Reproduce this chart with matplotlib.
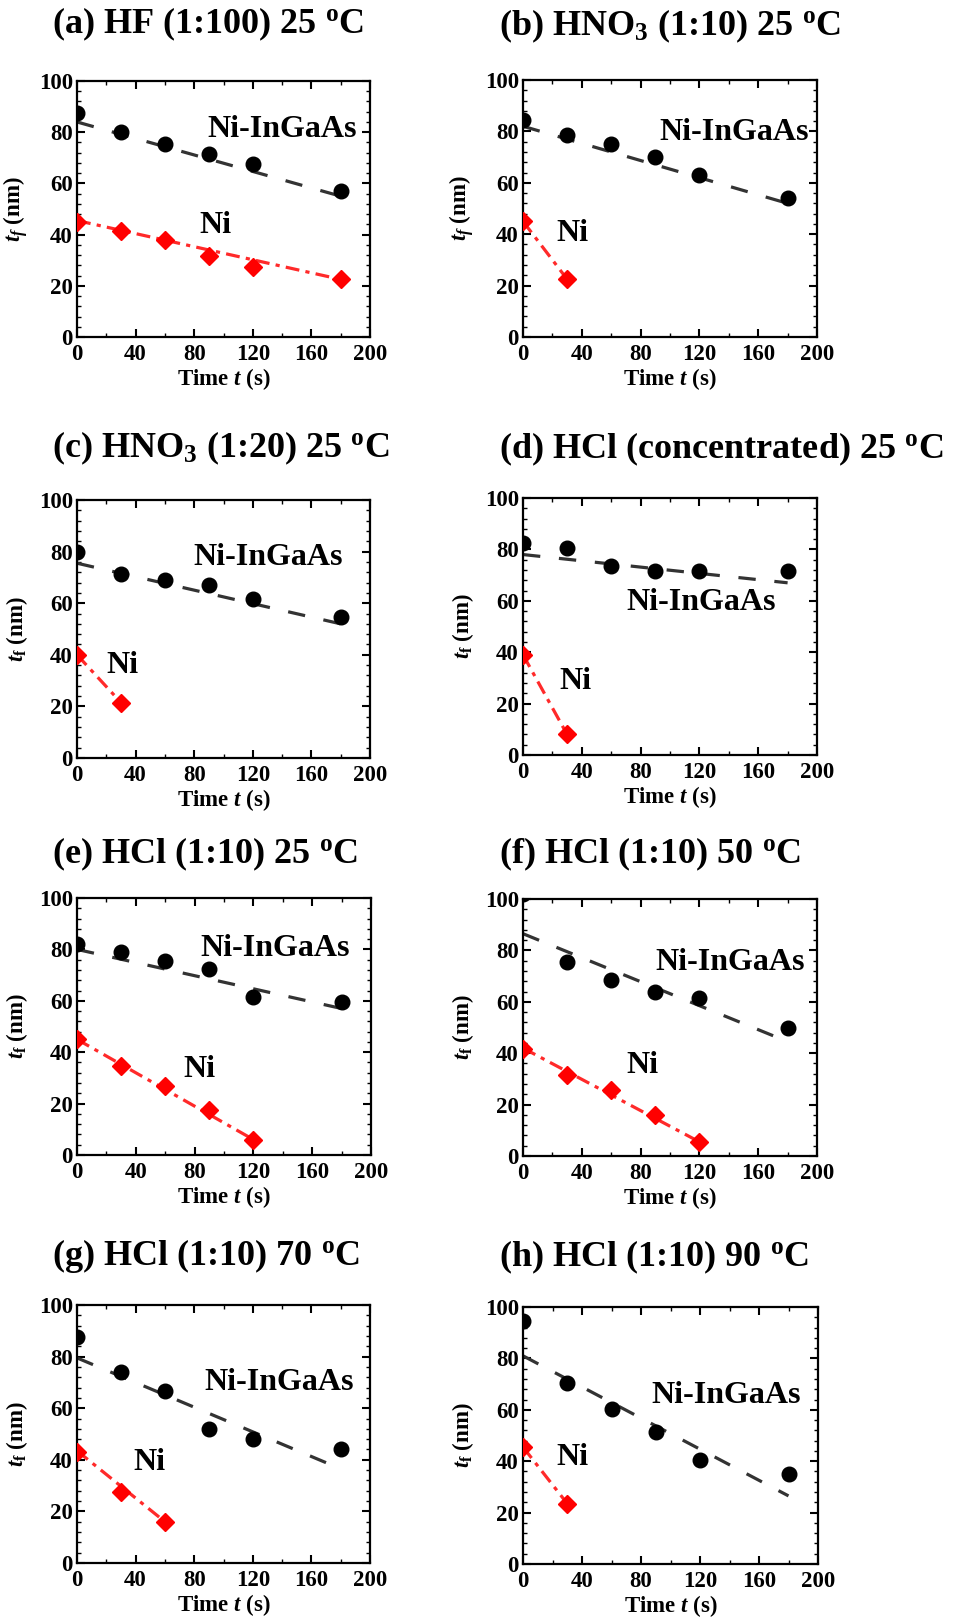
import numpy as np
import matplotlib
matplotlib.use("Agg")
import matplotlib.pyplot as plt

plt.rcParams['font.family'] = ['Liberation Serif', 'DejaVu Serif']
plt.rcParams['font.weight'] = 'bold'
plt.rcParams['axes.labelweight'] = 'bold'
plt.rcParams['mathtext.fontset'] = 'custom'
plt.rcParams['mathtext.rm'] = 'Liberation Serif:bold'
plt.rcParams['mathtext.it'] = 'Liberation Serif:italic:bold'
plt.rcParams['mathtext.bf'] = 'Liberation Serif:bold'
plt.rcParams['lines.scale_dashes'] = False

# ---- data ----
panels = ['a', 'b', 'c', 'd', 'e', 'f', 'g', 'h']
titles = [
    r"(a) HF (1:100) 25 $^{\mathrm{o}}$C",
    r"(b) HNO$_{\mathrm{3}}$ (1:10) 25 $^{\mathrm{o}}$C",
    r"(c) HNO$_{\mathrm{3}}$ (1:20) 25 $^{\mathrm{o}}$C",
    r"(d) HCl (concentrated) 25 $^{\mathrm{o}}$C",
    r"(e) HCl (1:10) 25 $^{\mathrm{o}}$C",
    r"(f) HCl (1:10) 50 $^{\mathrm{o}}$C",
    r"(g) HCl (1:10) 70 $^{\mathrm{o}}$C",
    r"(h) HCl (1:10) 90 $^{\mathrm{o}}$C",
]
ylabels = [r"$t_f$ (nm)"] * 2 + [r"$t_\mathrm{f}$ (nm)"] * 6

t_all = [0, 30, 60, 90, 120, 180]
nigaas = {
    'a': [87.5, 80, 75.5, 71.5, 67.5, 57],
    'b': [84.5, 78.5, 75, 70, 63, 54],
    'c': [80, 71.5, 69, 67, 61.5, 54.5],
    'd': [82.5, 80.5, 73.5, 71.5, 71.5, 71.5],
    'e': [82, 79, 75.5, 72.5, 61.5, 59.5],
    'f': [102, 75.5, 68.5, 64, 61.5, 50],
    'g': [87.5, 74, 66.5, 52, 48, 44],
    'h': [94.5, 70.5, 60.5, 51.5, 40.5, 35],
}
ni_t = {
    'a': [0, 30, 60, 90, 120, 180],
    'b': [0, 30],
    'c': [0, 30],
    'd': [0, 30],
    'e': [0, 30, 60, 90, 120],
    'f': [0, 30, 60, 90, 120],
    'g': [0, 30, 60],
    'h': [0, 30],
}
ni = {
    'a': [45, 41.5, 38, 31.5, 27.5, 22.5],
    'b': [45, 22.5],
    'c': [40, 21.5],
    'd': [39, 8],
    'e': [45, 34.5, 27, 17.5, 6],
    'f': [41.5, 31.5, 25.5, 16, 5.5],
    'g': [43, 27.5, 16],
    'h': [45.5, 23.5],
}
# fit lines (endpoints as drawn)
fit_nigaas_t = [0, 180]
fit_nigaas = {
    'a': [84, 55], 'b': [82, 52], 'c': [75.5, 52], 'd': [78, 67],
    'e': [80, 57], 'f': [86.5, 44.5], 'g': [79.5, 36.5], 'h': [81, 26.5],
}
fit_ni = {
    'a': ([0, 180], [45.5, 22.5]), 'b': ([0, 30], [45, 22.5]),
    'c': ([0, 30], [40, 21.5]), 'd': ([0, 30], [39, 8]),
    'e': ([0, 120], [45, 6]), 'f': ([0, 120], [42, 5.5]),
    'g': ([0, 60], [43.5, 16]), 'h': ([0, 30], [45.5, 23.5]),
}
# label anchors (data coords, left/baseline)
lbl_nigaas = {
    'a': (88.7, 78), 'b': (92.5, 76.6), 'c': (79.4, 74.8), 'd': (70.5, 56.4),
    'e': (84, 77.3), 'f': (89.8, 72.4), 'g': (86.7, 67), 'h': (86.8, 62.8),
}
lbl_ni = {
    'a': (83.5, 40.6), 'b': (22.4, 37.5), 'c': (19.8, 32.8), 'd': (24.7, 25.6),
    'e': (72.5, 30.5), 'f': (70, 32.2), 'g': (38.4, 36), 'h': (22.8, 38.5),
}

# ---- layout (pixels: left, top, right, bottom) ----
W, H = 956, 1617
boxes = {
    'a': (77, 81, 370, 337), 'b': (523, 80, 817, 337),
    'c': (77, 500, 370, 758), 'd': (523, 498, 817, 755),
    'e': (77, 898, 371, 1155), 'f': (523, 899, 817, 1156),
    'g': (77, 1305, 370, 1563), 'h': (523, 1307, 818, 1564),
}
title_pos = {
    'a': (52, 33), 'b': (499, 35), 'c': (52, 457), 'd': (499, 458),
    'e': (52, 863), 'f': (499, 863), 'g': (52, 1265), 'h': (499, 1266),
}

fig = plt.figure(figsize=(W / 100, H / 100), dpi=100)

for p, title, ylab in zip(panels, titles, ylabels):
    l, t, r, b = boxes[p]
    ax = fig.add_axes([l / W, 1 - b / H, (r - l) / W, (b - t) / H])

    ax.plot(fit_nigaas_t, fit_nigaas[p], color='#333333', lw=2.3,
            dashes=(12.5, 13.5), zorder=2)
    ax.plot(*fit_ni[p], color='#ff2a2a', lw=2.3,
            dashes=(10, 4.5, 3, 4.5), zorder=2)
    ax.plot(t_all, nigaas[p], 'o', color='black', ms=10.5, zorder=3)
    ax.plot(ni_t[p], ni[p], 'D', color='#ff0000', ms=9.5, zorder=3)

    ax.text(*lbl_nigaas[p], "Ni-InGaAs", fontsize=23, ha='left', va='baseline')
    ax.text(*lbl_ni[p], "Ni", fontsize=23, ha='left', va='baseline')

    ax.set_xlim(0, 200)
    ax.set_ylim(0, 100)
    ax.set_xticks(np.arange(0, 201, 40))
    ax.set_xticks(np.arange(0, 201, 20), minor=True)
    ax.set_yticks(np.arange(0, 101, 20))
    ax.set_yticks(np.arange(0, 101, 4), minor=True)
    ax.tick_params(which='both', direction='in', top=True, right=True,
                   labelsize=16.5)
    ax.tick_params(which='major', length=6, width=1.5)
    ax.tick_params(which='minor', length=3, width=1.0)
    ax.tick_params(axis='x', pad=5)
    ax.tick_params(axis='y', pad=3)
    for s in ax.spines.values():
        s.set_linewidth(1.6)

    ax.set_xlabel(r"Time $t$ (s)", fontsize=16.5, labelpad=1)
    ax.set_ylabel(ylab, fontsize=16.5, labelpad=6)

    tx, ty = title_pos[p]
    fig.text(tx / W, 1 - ty / H, title, fontsize=26, ha='left', va='baseline')

fig.savefig("out.png", dpi=100)
